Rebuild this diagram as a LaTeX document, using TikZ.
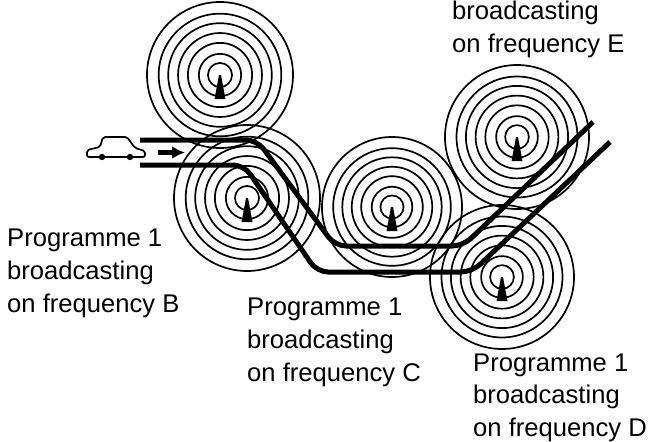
\documentclass[tikz,border=0pt]{standalone}
\usepackage{fontspec}
\setmainfont{Liberation Sans}
\usetikzlibrary{arrows.meta}
\usetikzlibrary{calc}

\begin{document}
\begin{tikzpicture}[
  x=1pt, y=-1pt,
  ring/.style={draw, line width=1.7pt},
  mast/.style={fill=black},
  track/.style={line width=5pt, rounded corners=11pt},
  label/.style={align=left, anchor=north west, inner sep=0pt, font=\fontsize{25.6}{32.6}\selectfont},
  car/.style={line width=1.7pt, rounded corners=2pt}
]
\useasboundingbox (0,0) rectangle (651,442);

% transmitters
\foreach \name/\cx/\cy/\rmax in {a/220/75/73, b/247/198/73, c/392/207/70, d/502/277/72, e/517/137/72} {
  \coordinate (\name) at (\cx,\cy);
  \foreach \f in {1.0,0.84,0.71,0.575,0.44,0.29,0.165}
    \draw[ring] (\name) circle ({\f*\rmax});
  \fill[mast] ($(\name)+(-1,0)$) -- ++(2,0) -- ++(4.5,24) -- ++(-11,0) -- cycle;
}

% car
\draw[car] (87,157) -- (87,150) -- (100,147) -- (103,137) -- (127,137) -- (135,148) -- (145,151) -- (145,157) -- cycle;
\fill (102,157) circle (3.2);
\fill (130,157) circle (3.2);

% direction of travel
\coordinate (go0) at (158,152.5);
\coordinate (go1) at (185,152.5);
\draw[line width=5pt, -{Latex[length=13pt,width=13pt]}] (go0) -- (go1);

% road
\coordinate (u0) at (140,140);
\coordinate (u1) at (257,140);
\coordinate (u2) at (335,246);
\coordinate (u3) at (463,246);
\coordinate (u4) at (593,122);
\coordinate (l0) at (140,165);
\coordinate (l1) at (244,165);
\coordinate (l2) at (317,272);
\coordinate (l3) at (472,272);
\coordinate (l4) at (610,142);
\draw[track] (u0) -- (u1) -- (u2) -- (u3) -- (u4);
\draw[track] (l0) -- (l1) -- (l2) -- (l3) -- (l4);

\node[label] (tb) at (7,229) {Programme 1\\broadcasting\\on frequency B};
\node[label] (tc) at (247,298) {Programme 1\\broadcasting\\on frequency C};
\node[label] (td) at (473,353.5) {Programme 1\\broadcasting\\on frequency D};
\node[label] (te) at (452,1) {broadcasting\\on frequency E};

\end{tikzpicture}
\end{document}
